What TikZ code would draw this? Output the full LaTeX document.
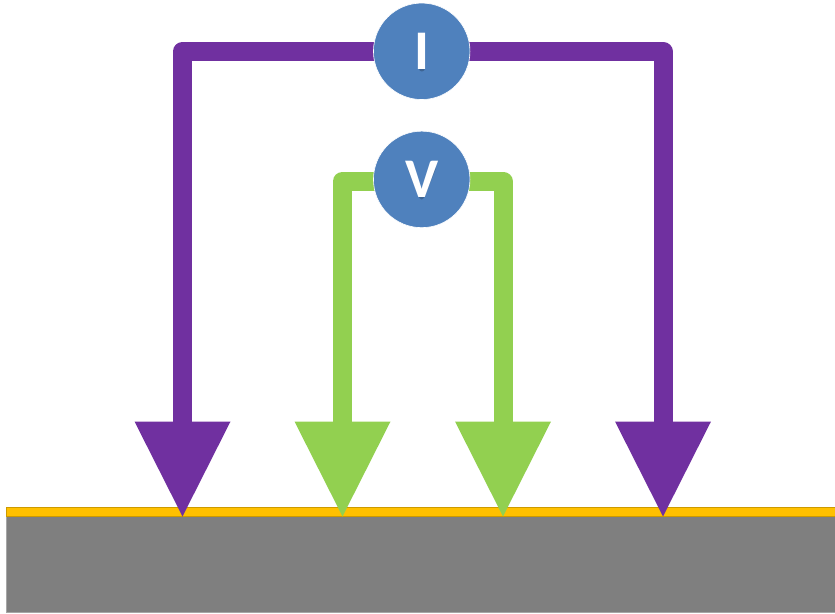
\documentclass[tikz,border=0pt]{standalone}
\usepackage{fontspec}
\setmainfont{Carlito}
\usetikzlibrary{arrows.meta,backgrounds}
\definecolor{wirepurple}{HTML}{7030A0}
\definecolor{wiregreen}{HTML}{92D050}
\definecolor{meterblue}{HTML}{4F81BD}
\definecolor{filmyellow}{HTML}{FFC000}
\definecolor{basegray}{HTML}{7F7F7F}
\tikzset{
  meter/.style={circle,fill=meterblue,draw=white,line width=.6pt,minimum size=96.5pt,inner sep=0pt},
  letter/.style={text=white,font=\fontsize{56}{56}\selectfont\bfseries,inner sep=0pt},
  probe/.style={line width=19pt,line join=round,-{Triangle[width=96pt,length=95pt,line width=0pt,round=false]},line cap=butt},
  layer/.style={rectangle,inner sep=0pt,anchor=north west,line width=.6pt},
  lettershade/.style={draw=black,opacity=.22,line cap=round,line join=round}
}
\begin{document}
\begin{tikzpicture}[x=1pt,y=-1pt]
\useasboundingbox (0,0) rectangle (835,613);
% contact points
\coordinate (c1) at (182.5,516.5);
\coordinate (c2) at (342.5,516.5);
\coordinate (c3) at (503,516.5);
\coordinate (c4) at (663,516.5);
% meters
\node[meter] (I) at (421.7,51.3) {};
\node[meter] (V) at (421.7,179.4) {};
% shadows of the letters
\draw[lettershade,line width=6pt] (421.7,40) -- (421.7,68.5);
\draw[lettershade,line width=5pt] (410,168) -- (421.7,197) -- (433.4,168);
% letters
\node[letter] (Il) at (421.7,51.5) {I};
\node[letter] (Vl) at (421.7,179.8) {V};
% connectors and surface, beneath the meters
\begin{pgfonlayer}{background}
\node[layer,fill=basegray,draw=black!35,minimum width=832pt,minimum height=96pt] (base) at (6,516) {};
\node[layer,fill=filmyellow,draw=filmyellow!80!black,minimum width=832pt,minimum height=9pt] (film) at (6,507) {};
\draw[probe,color=wirepurple] (I.center) -| (c1);
\draw[probe,color=wirepurple] (I.center) -| (c4);
\draw[probe,color=wiregreen] ([yshift=-1.6pt]V.center) -| (c2);
\draw[probe,color=wiregreen] ([yshift=-1.6pt]V.center) -| (c3);
\end{pgfonlayer}
\end{tikzpicture}
\end{document}
